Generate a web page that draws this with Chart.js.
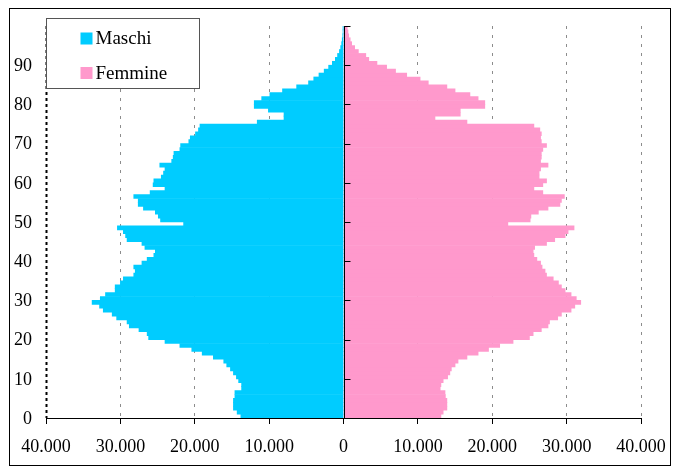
<!DOCTYPE html>
<html>
<head>
<meta charset="utf-8">
<script src="https://cdn.jsdelivr.net/npm/chart.js@4"></script>
<style>
  html, body { margin: 0; padding: 0; background: #fff; }
  #container { width: 680px; height: 474px; }
</style>
</head>
<body>
<div id="container"><canvas id="canvas" width="680" height="474"></canvas></div>
<script>
// classi di età 0..99
var eta = [];
for (var i = 0; i < 100; i++) eta.push(String(i));

var maschi = [
  13800, 14300, 14800, 14800, 14800, 14600, 14600, 13700, 13700, 14100,
  14400, 14800, 15200, 15700, 16100, 17500, 19000, 20400, 22000, 24000,
  26200, 26400, 27500, 28800, 29100, 30500, 31100, 32300, 32800, 33800,
  32700, 32000, 30700, 30700, 30000, 29600, 28200, 28000, 28200, 27100,
  26400, 25500, 25300, 26700, 27100, 29100, 29300, 29600, 30400, 21500,
  24600, 24900, 25300, 26900, 27600, 27600, 28200, 26000, 24000, 25600,
  25500, 24500, 24200, 24000, 24700, 23100, 22900, 22800, 22000, 21900,
  20800, 20600, 19900, 19500, 19300, 11600, 8000, 8000, 10100, 12000,
  12000, 11000, 9900, 8200, 6300, 4700, 4000, 3300, 2600, 2000,
  1500, 1100, 800, 550, 380, 250, 170, 100, 60, 40
];

var femmine = [
  13100, 13400, 13900, 13900, 13900, 13700, 13650, 13000, 13100, 13400,
  14000, 14300, 14500, 15000, 15400, 16600, 18100, 19500, 21000, 22800,
  25000, 25500, 26600, 27500, 27700, 28800, 29300, 30600, 31100, 31900,
  31300, 30600, 29800, 29300, 28900, 28200, 27300, 27100, 26700, 26500,
  26000, 25600, 25500, 25700, 27300, 28400, 29800, 30200, 31000, 22100,
  25100, 25200, 26200, 27500, 29100, 29300, 29700, 26800, 25600, 26800,
  27300, 26300, 26300, 26500, 27500, 26500, 26600, 26600, 26800, 27300,
  26600, 26500, 26600, 26400, 25600, 16600, 12300, 15700, 15700, 19000,
  19000, 18100, 17000, 15000, 13900, 11400, 10300, 8500, 7000, 5800,
  4500, 3400, 3000, 2000, 1500, 1100, 900, 700, 600, 500
];

var colori = ['#00CCFF', '#FF99CC'];
var FONT = '"Liberation Serif", "DejaVu Serif", serif';

function formatta(v) {
  return String(Math.abs(v)).replace(/\B(?=(\d{3})+(?!\d))/g, '.');
}

// sfondo bianco e cornice esterna
var cornice = {
  id: 'cornice',
  beforeDraw: function (chart) {
    var ctx = chart.ctx;
    ctx.save();
    ctx.fillStyle = '#fff';
    ctx.fillRect(0, 0, chart.width, chart.height);
    ctx.strokeStyle = '#000';
    ctx.lineWidth = 1;
    ctx.strokeRect(9.5, 8.5, chart.width - 19, chart.height - 17);
    ctx.restore();
  }
};

// linea nera tratteggiata sul bordo sinistro (-40.000)
var bordoSinistro = {
  id: 'bordoSinistro',
  beforeDatasetsDraw: function (chart) {
    var ctx = chart.ctx, x = chart.scales.x, a = chart.chartArea;
    var lx = Math.round(x.getPixelForValue(x.min)) + 0.5;
    ctx.save();
    ctx.strokeStyle = '#000';
    ctx.lineWidth = 2;
    ctx.setLineDash([3, 3]);
    ctx.beginPath();
    ctx.moveTo(lx, a.top);
    ctx.lineTo(lx, a.bottom);
    ctx.stroke();
    ctx.restore();
  }
};

// asse verticale centrale con tacche ogni 10 anni
var asseCentrale = {
  id: 'asseCentrale',
  afterDatasetsDraw: function (chart) {
    var ctx = chart.ctx, x = chart.scales.x, y = chart.scales.y, a = chart.chartArea;
    var cx = Math.round(x.getPixelForValue(0)) + 0.5;
    ctx.save();
    ctx.strokeStyle = '#000';
    ctx.lineWidth = 1;
    ctx.beginPath();
    ctx.moveTo(cx, a.top);
    ctx.lineTo(cx, a.bottom);
    for (var k = 10; k <= eta.length; k += 10) {
      var py = Math.round(y.getPixelForValue(k - 0.5)) + 0.5;
      ctx.moveTo(cx, py);
      ctx.lineTo(cx + 6, py);
    }
    ctx.stroke();
    ctx.restore();
  }
};

// legenda dentro l'area del grafico
var legenda = {
  id: 'legenda',
  afterDraw: function (chart) {
    var ctx = chart.ctx, a = chart.chartArea;
    var bx = a.left + 0.5, by = a.top - 8 + 0.5;
    ctx.save();
    ctx.fillStyle = '#fff';
    ctx.fillRect(bx, by, 153, 70);
    ctx.strokeStyle = '#555';
    ctx.lineWidth = 1;
    ctx.strokeRect(bx, by, 153, 70);
    ctx.font = '19px ' + FONT;
    ctx.textBaseline = 'middle';
    chart.data.datasets.forEach(function (ds, i) {
      var yy = by + 20 + i * 34.5;
      ctx.fillStyle = ds.backgroundColor;
      ctx.fillRect(bx + 34, yy - 6, 12, 12);
      ctx.fillStyle = '#000';
      ctx.fillText(ds.label, bx + 49, yy + 1);
    });
    ctx.restore();
  }
};

var config = {
  type: 'bar',
  data: {
    labels: eta,
    datasets: [{
      label: 'Maschi',
      data: maschi.map(function (v) { return -v; }),
      backgroundColor: colori[0],
      barPercentage: 1,
      categoryPercentage: 1
    }, {
      label: 'Femmine',
      data: femmine,
      backgroundColor: colori[1],
      barPercentage: 1,
      categoryPercentage: 1
    }]
  },
  options: {
    indexAxis: 'y',
    responsive: false,
    animation: false,
    layout: { padding: { left: 10, right: 39, top: 26, bottom: 10 } },
    plugins: {
      legend: { display: false },
      tooltip: { enabled: false }
    },
    scales: {
      x: {
        stacked: true,
        min: -40000,
        max: 40000,
        afterFit: function (s) { s.height = 46; },
        ticks: {
          stepSize: 10000,
          color: '#000',
          padding: 12,
          maxRotation: 0,
          font: { family: FONT, size: 18 },
          callback: function (v) { return formatta(v); }
        },
        grid: {
          color: function (c) {
            var v = c.tick ? c.tick.value : null;
            if (v === 0 || v === -40000) return 'rgba(0,0,0,0)';
            return '#8c8c8c';
          },
          lineWidth: 1,
          drawTicks: true,
          tickLength: 6,
          tickColor: '#000'
        },
        border: { display: true, color: '#000', width: 1, dash: [3, 6] }
      },
      y: {
        stacked: true,
        reverse: true,
        offset: true,
        afterFit: function (s) { s.width = 36; },
        grid: { display: false, drawTicks: false },
        border: { display: false },
        ticks: {
          autoSkip: false,
          color: '#000',
          padding: 14,
          labelOffset: 3,
          font: { family: FONT, size: 18 },
          callback: function (v, idx) { return idx % 10 === 0 ? this.getLabelForValue(v) : ''; }
        }
      }
    }
  },
  plugins: [cornice, bordoSinistro, asseCentrale, legenda]
};

var ctx = document.getElementById('canvas').getContext('2d');
window.piramide = new Chart(ctx, config);
</script>
</body>
</html>
